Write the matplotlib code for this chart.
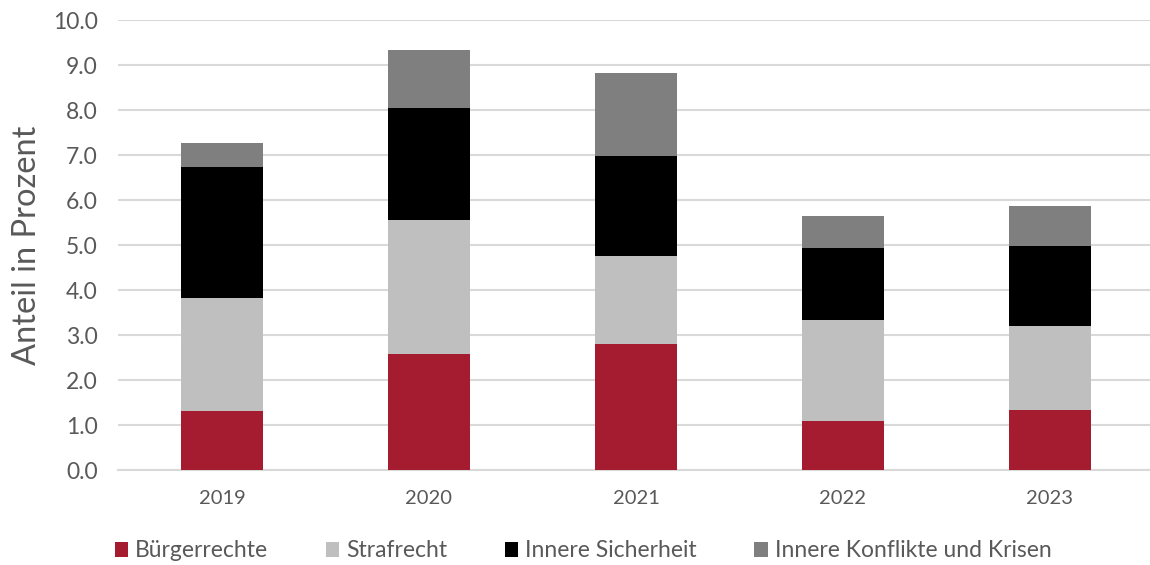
import numpy as np
import matplotlib.pyplot as plt

years = ['2019', '2020', '2021', '2022', '2023']
buergerrechte = [1.31, 2.58, 2.81, 1.09, 1.33]
strafrecht = [2.52, 2.99, 1.95, 2.24, 1.88]
innere_sicherheit = [2.91, 2.47, 2.22, 1.61, 1.78]
konflikte = [0.53, 1.29, 1.86, 0.70, 0.89]

series = [
    ('Bürgerrechte', buergerrechte, '#A51C30'),
    ('Strafrecht', strafrecht, '#BFBFBF'),
    ('Innere Sicherheit', innere_sicherheit, '#000000'),
    ('Innere Konflikte und Krisen', konflikte, '#7F7F7F'),
]

plt.rcParams['font.family'] = ['Lato', 'DejaVu Sans']
text_col = '#595959'

fig = plt.figure(figsize=(11.5, 5.65), dpi=100)
ax = fig.add_axes([0.103, 0.168, 0.9, 0.796])

x = np.arange(len(years))
bottom = np.zeros(len(years))
for name, vals, col in series:
    ax.bar(x, vals, 0.4, bottom=bottom, color=col, label=name, zorder=3)
    bottom += np.array(vals)

ax.set_xlim(-0.5, 4.5)
ax.set_ylim(0, 10)
ax.set_yticks(np.arange(0, 11, 1))
ax.set_yticklabels([f'{v:.1f}' for v in np.arange(0, 11, 1)])
ax.set_xticks(x)
ax.set_xticklabels(years)
ax.yaxis.grid(True, color='#D9D9D9', linewidth=1.5, zorder=0)
ax.tick_params(axis='y', length=0, pad=15, labelsize=16.5, labelcolor=text_col)
ax.tick_params(axis='x', length=0, pad=14, labelsize=14.5, labelcolor=text_col)
for s in ['top', 'right', 'left']:
    ax.spines[s].set_visible(False)
ax.spines['bottom'].set_color('#D9D9D9')
ax.spines['bottom'].set_linewidth(1.5)
ax.set_ylabel('Anteil in Prozent', fontsize=23.5, color=text_col, labelpad=8)

fig.legend(loc='lower center', bbox_to_anchor=(0.507, -0.03), ncol=4, frameon=False,
           fontsize=16.5, handlelength=0.6, handleheight=0.6, handletextpad=0.3,
           columnspacing=2.5, labelcolor=text_col)

fig.savefig('out.png', dpi=100)
